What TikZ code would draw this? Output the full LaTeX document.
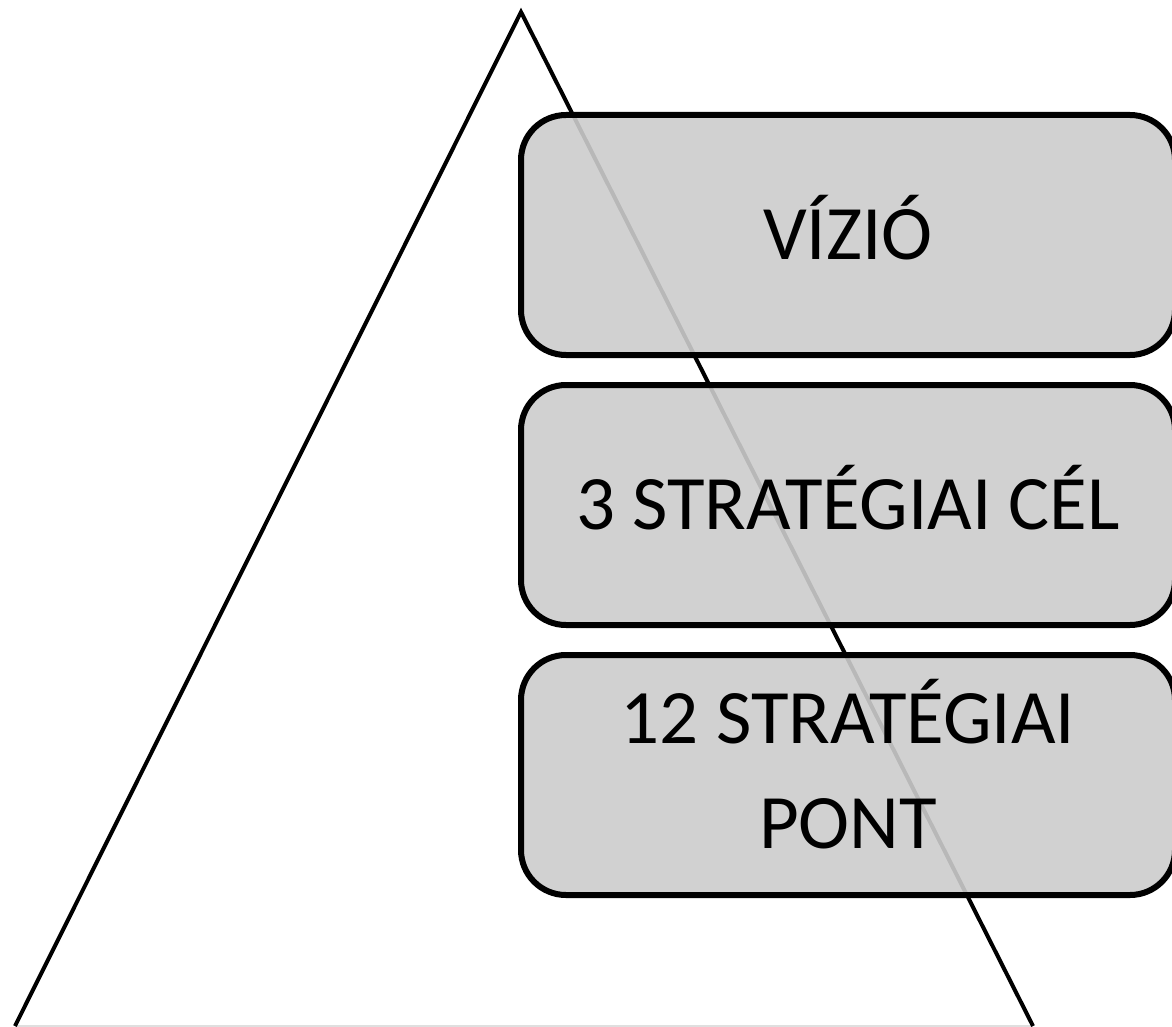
\documentclass[tikz,border=0pt]{standalone}
\usepackage{fontspec}
\setmainfont{Carlito}
\begin{document}
\begin{tikzpicture}[x=1pt,y=-1pt]
\tikzset{level/.style={draw=black,line width=6pt,rounded corners=45pt,fill=black!20,fill opacity=0.9,text opacity=1,
  minimum width=654pt,minimum height=240pt,inner sep=0pt,align=center,font=\fontsize{77}{105}\selectfont}}
\useasboundingbox (0,0) rectangle (1172,1027);
\clip (0,0) rectangle (1172,1027);
\coordinate (apex) at (521,12);
\coordinate (bl) at (15,1026);
\coordinate (br) at (1033,1026);

\draw [gray!25,line width=1.5pt] (bl) -- (br);
\draw [line width=4pt] (bl) -- (apex) -- (br);

\node [level] (vizio) at (848,235) {\raisebox{16pt}{VÍZIÓ}};
\node [level] (cel) at (848,505) {\raisebox{16pt}{3 STRATÉGIAI CÉL}};
\node [level] (pont) at (848,775) {\raisebox{40pt}{\begin{tabular}{@{}c@{}}12 STRATÉGIAI\\PONT\end{tabular}}};
\end{tikzpicture}
\end{document}
